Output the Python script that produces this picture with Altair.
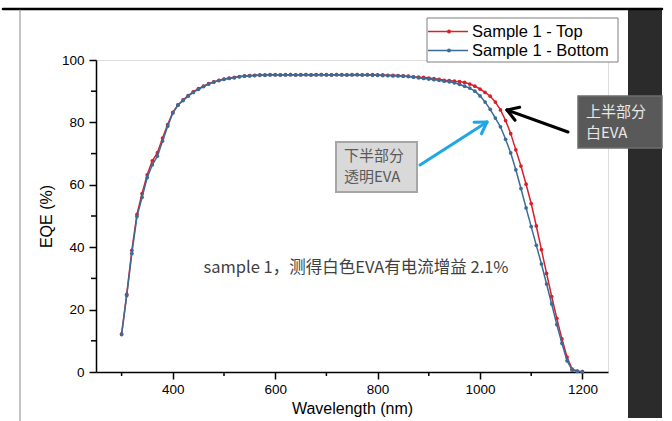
import math
import altair as alt
import pandas as pd

# ---------------- data ----------------
wavelength = [300, 310, 320, 330, 340, 350, 360, 370, 380, 390,
              400, 410, 420, 430, 440, 450, 460, 470, 480, 490,
              500, 510, 520, 530, 540, 550, 560, 570, 580, 590,
              600, 610, 620, 630, 640, 650, 660, 670, 680, 690,
              700, 710, 720, 730, 740, 750, 760, 770, 780, 790,
              800, 810, 820, 830, 840, 850, 860, 870, 880, 890,
              900, 910, 920, 930, 940, 950, 960, 970, 980, 990,
              1000, 1010, 1020, 1030, 1040, 1050, 1060, 1070, 1080, 1090,
              1100, 1110, 1120, 1130, 1140, 1150, 1160, 1170, 1180, 1190,
              1200]

eqe_top = [12.2, 24.9, 39.0, 50.5, 57.2, 63.2, 67.7, 70.3, 75.0, 79.3,
           83.2, 85.6, 87.2, 88.6, 89.8, 90.8, 91.6, 92.4, 93.0, 93.5,
           93.9, 94.2, 94.4, 94.7, 94.9, 95.0, 95.1, 95.2, 95.2, 95.3,
           95.3, 95.2, 95.3, 95.3, 95.2, 95.3, 95.3, 95.2, 95.3, 95.3,
           95.3, 95.2, 95.3, 95.3, 95.2, 95.3, 95.3, 95.2, 95.3, 95.3,
           95.2, 95.2, 95.1, 95.1, 95.0, 94.9, 94.8, 94.6, 94.5, 94.4,
           94.2, 94.0, 93.8, 93.5, 93.4, 93.2, 93.1, 92.8, 92.3, 91.6,
           90.7, 89.6, 88.4, 86.5, 84.0, 80.6, 76.4, 71.2, 66.0, 60.2,
           54.0, 46.8, 39.2, 31.6, 24.2, 17.2, 10.6, 4.8, 0.9, 0.3,
           0.1]

eqe_bottom = [12.0, 24.5, 38.0, 49.8, 56.0, 62.3, 66.4, 69.2, 74.0, 78.8,
              83.0, 85.5, 87.0, 88.4, 89.6, 90.6, 91.5, 92.3, 92.9, 93.4,
              93.8, 94.1, 94.3, 94.6, 94.8, 94.9, 95.0, 95.1, 95.1, 95.2,
              95.2, 95.2, 95.2, 95.3, 95.2, 95.2, 95.3, 95.2, 95.2, 95.3,
              95.2, 95.2, 95.3, 95.2, 95.2, 95.2, 95.3, 95.2, 95.2, 95.1,
              95.1, 95.0, 95.0, 94.9, 94.9, 94.8, 94.7, 94.5, 94.3, 94.1,
              93.9, 93.7, 93.5, 93.2, 93.0, 92.7, 92.2, 91.6, 91.0, 90.0,
              88.5, 86.5, 84.2, 81.4, 78.6, 74.6, 70.2, 64.8, 58.8, 52.6,
              46.6, 40.6, 34.6, 28.2, 21.8, 15.2, 9.2, 3.6, 0.6, 0.2,
              0.1]

series_names = ["Sample 1 - Top", "Sample 1 - Bottom"]
series_colors = ["#d8202a", "#3a6c96"]

x_ticks = [400, 600, 800, 1000, 1200]
x_minor = [300, 500, 700, 900, 1100]
y_ticks = [0, 20, 40, 60, 80, 100]
y_minor = [10, 30, 50, 70, 90]

note_text = "sample 1，测得白色EVA有电流增益 2.1%"
box_lower = ["下半部分", "透明EVA"]
box_upper = ["上半部分", "白EVA"]

# ---------------- layout ----------------
OX, OY = 96, 60          # plot origin in page pixels
W, H = 512, 312
CJK = "Noto Sans CJK SC"
LAT = "Liberation Sans"


def px(x):
    return x - OX


def py(y):
    return y - OY


one = pd.DataFrame({"k": [0]})

rows = []
for name, vals in zip(series_names, [eqe_top, eqe_bottom]):
    for w, v in zip(wavelength, vals):
        rows.append({"wl": w, "eqe": v, "series": name})
df = pd.DataFrame(rows)

xscale = alt.Scale(domain=[250, 1250], nice=False, zero=False)
yscale = alt.Scale(domain=[0, 100], nice=False)
cscale = alt.Scale(domain=series_names, range=series_colors)


def rect(x1, y1, x2, y2, fill, stroke=None, sw=0):
    kw = dict(fill=fill)
    if stroke:
        kw.update(stroke=stroke, strokeWidth=sw)
    return alt.Chart(one).mark_rect(**kw).encode(
        x=alt.value(px(x1)), x2=alt.value(px(x2)),
        y=alt.value(py(y1)), y2=alt.value(py(y2)))


def seg(x1, y1, x2, y2, color, sw):
    return alt.Chart(one).mark_rule(color=color, strokeWidth=sw, strokeCap="round").encode(
        x=alt.value(px(x1)), x2=alt.value(px(x2)),
        y=alt.value(py(y1)), y2=alt.value(py(y2)))


def txt(x, y, s, size, color, font, align="left", baseline="middle"):
    return alt.Chart(one).mark_text(text=s, fontSize=size, color=color, font=font,
                                    align=align, baseline=baseline).encode(
        x=alt.value(px(x)), y=alt.value(py(y)))


def arrow(tail, tip, color, sw, L=13, ang=32):
    dx, dy = tip[0] - tail[0], tip[1] - tail[1]
    n = math.hypot(dx, dy)
    ux, uy = -dx / n, -dy / n
    out = [seg(tail[0], tail[1], tip[0], tip[1], color, sw)]
    for s in (1, -1):
        a = math.radians(ang * s)
        wx = ux * math.cos(a) - uy * math.sin(a)
        wy = ux * math.sin(a) + uy * math.cos(a)
        out.append(seg(tip[0], tip[1], tip[0] + L * wx, tip[1] + L * wy, color, sw))
    return out


# ---------------- page decorations ----------------
deco = [
    rect(628, 10, 662, 418, "#2b2b2b"),
    seg(3, 9, 662, 9, "#000000", 2.5),
    seg(20, 10, 20, 421, "#8a8a8a", 1),
]

# ---------------- data layers ----------------
base = alt.Chart(df).encode(
    x=alt.X("wl:Q", scale=xscale,
            axis=alt.Axis(title="Wavelength (nm)", values=x_ticks, format="d", grid=False,
                          domainColor="black", domainWidth=1.5, tickColor="black",
                          tickWidth=1.5, tickSize=7, labelFontSize=13.5, labelFont=LAT,
                          labelColor="black", labelPadding=3, titleFont=LAT,
                          titleFontSize=16, titleFontWeight="normal", titleColor="black",
                          titlePadding=5, labelFlush=False)),
    y=alt.Y("eqe:Q", scale=yscale,
            axis=alt.Axis(title="EQE (%)", values=y_ticks, format="d", grid=False,
                          domainColor="black", domainWidth=1.5, tickColor="black",
                          tickWidth=1.5, tickSize=7, labelFontSize=13.5, labelFont=LAT,
                          labelColor="black", labelPadding=5, titleFont=LAT,
                          titleFontSize=16, titleFontWeight="normal", titleColor="black",
                          titlePadding=7, labelFlush=False)),
    color=alt.Color("series:N", scale=cscale, legend=None),
    order=alt.Order("wl:Q"),
)

lines = []
for name in series_names:
    lines.append(base.transform_filter(alt.datum.series == name).mark_line(
        strokeWidth=1.5,
        point=alt.OverlayMarkDef(filled=True, size=14)))

minor_x = alt.Chart(pd.DataFrame({"v": x_minor})).mark_rule(color="black", strokeWidth=1.5).encode(
    x=alt.X("v:Q", scale=xscale), y=alt.value(H), y2=alt.value(H + 4))
minor_y = alt.Chart(pd.DataFrame({"v": y_minor})).mark_rule(color="black", strokeWidth=1.5).encode(
    y=alt.Y("v:Q", scale=yscale), x=alt.value(-5), x2=alt.value(0))

# ---------------- legend ----------------
leg_df = pd.DataFrame({"series": series_names, "ly": [py(31.5), py(50.5)]})
legend = [rect(427, 18, 618, 62, "white", "#7f7f7f", 1)]
legend.append(alt.Chart(leg_df).mark_rule(strokeWidth=1.5).encode(
    x=alt.value(px(428)), x2=alt.value(px(468)), y=alt.Y("ly:Q", scale=None),
    color=alt.Color("series:N", scale=cscale, legend=None)))
legend.append(alt.Chart(leg_df).mark_point(filled=True, size=16, opacity=1).encode(
    x=alt.value(px(449)), y=alt.Y("ly:Q", scale=None),
    color=alt.Color("series:N", scale=cscale, legend=None)))
legend.append(alt.Chart(leg_df).mark_text(align="left", baseline="middle", fontSize=16.5,
                                          font=LAT, color="black").encode(
    x=alt.value(px(472)), y=alt.Y("ly:Q", scale=None), text="series:N"))

# ---------------- annotations ----------------
notes = [
    txt(356, 268, note_text, 16.5, "#404040", CJK, align="center"),
    rect(336, 142, 417, 192, "#d9d9d9", "#a6a6a6", 2),
    txt(344, 155.5, box_lower[0], 15, "#595959", CJK),
    txt(344, 177, box_lower[1], 15, "#595959", CJK),
    rect(578, 96, 662, 148, "#595959", "#6e6e6e", 1.5),
    txt(586, 111.5, box_upper[0], 15, "#e8e8e8", CJK),
    txt(586, 133, box_upper[1], 15, "#e8e8e8", CJK),
]
notes += arrow((420, 165), (487, 122), "#1ea7e4", 3)
notes += arrow((568, 132), (507, 110), "#000000", 3)

chart = alt.layer(*deco, *lines, minor_x, minor_y, *legend, *notes).properties(
    width=W, height=H,
    padding={"left": OX, "top": OY, "right": 672 - OX - W, "bottom": 421 - OY - H},
    autosize=alt.AutoSizeParams(type="none"),
).configure_view(stroke=None).configure(background="white")

chart.save("out.html", embed_options={"renderer": "svg", "actions": False})
